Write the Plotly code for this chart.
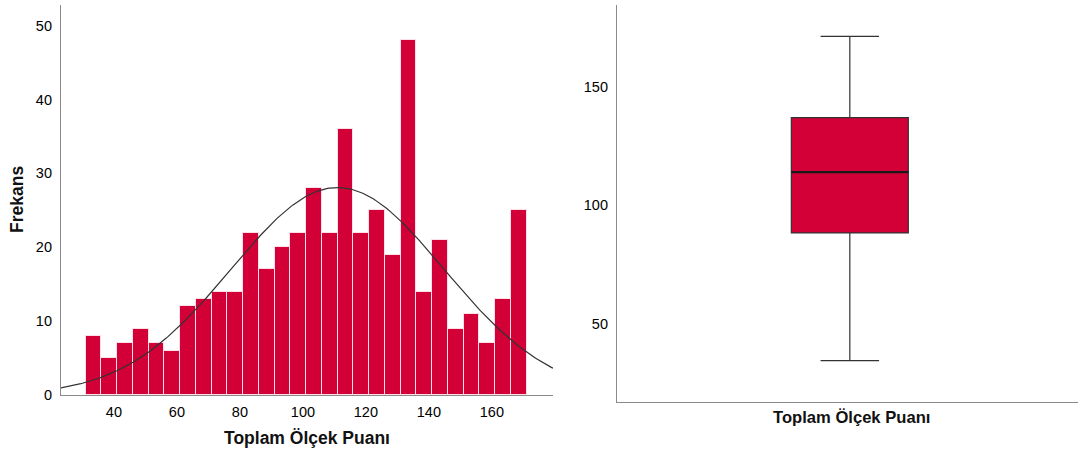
import numpy as np
import plotly.graph_objects as go

# ---- Histogram data ----
bin_start = 31.0
bin_width = 5.0
counts = [8, 5, 7, 9, 7, 6, 12, 13, 14, 14, 22, 17, 20, 22, 28, 22, 36, 22, 25, 19,
          48, 14, 21, 9, 11, 7, 13, 25]
# fitted normal curve parameters
fit_mean = 111.0
fit_sd = 33.8

# ---- Boxplot summary ----
box_q1 = 88.4
box_median = 114.0
box_q3 = 137.0
box_low = 34.6
box_high = 171.2

x_ticks = [40, 60, 80, 100, 120, 140, 160]
y_ticks_hist = [0, 10, 20, 30, 40, 50]
y_ticks_box = [50, 100, 150]
label = "Toplam Ölçek Puanı"

RED = "#D20036"
FONT = "Liberation Sans, Arial, sans-serif"

centers = [bin_start + bin_width * (i + 0.5) for i in range(len(counts))]
N = sum(counts)
xc = np.linspace(23.2, 179.4, 300)
yc = N * bin_width / (fit_sd * np.sqrt(2 * np.pi)) * np.exp(-0.5 * ((xc - fit_mean) / fit_sd) ** 2)

W, H = 1078, 452
H_EFF = 444.0
def px(x):
    return x / W
def py(y):
    return 1 - y / H_EFF

fig = go.Figure()
fig.add_trace(go.Bar(x=centers, y=counts, width=bin_width, marker=dict(color=RED,
                     line=dict(color="rgba(255,235,240,0.9)", width=1)),
                     xaxis="x", yaxis="y", showlegend=False, hoverinfo="skip"))
fig.add_trace(go.Scatter(x=xc, y=yc, mode="lines", line=dict(color="#333333", width=1.2),
                         xaxis="x", yaxis="y", showlegend=False, hoverinfo="skip"))

box_w = 0.5025
fig.add_trace(go.Box(x=[0], q1=[box_q1], median=[box_median], q3=[box_q3],
                     lowerfence=[box_low], upperfence=[box_high], width=box_w,
                     whiskerwidth=0.5, fillcolor=RED, line=dict(color="#333333", width=1.2),
                     xaxis="x2", yaxis="y2", showlegend=False, boxpoints=False, hoverinfo="skip"))
fig.add_trace(go.Scatter(x=[-box_w / 2, box_w / 2], y=[box_median, box_median], mode="lines",
                         line=dict(color="#1a1a1a", width=2.2), xaxis="x2", yaxis="y2",
                         showlegend=False, hoverinfo="skip"))

axis_common = dict(showgrid=False, zeroline=False, showline=True, linecolor="#8a8a8a",
                   linewidth=1.2, tickfont=dict(family=FONT, size=14.5, color="#000000"))

fig.update_layout(
    width=W, height=H,
    margin=dict(l=0, r=0, t=0, b=0),
    paper_bgcolor="white", plot_bgcolor="white",
    bargap=0,
    xaxis=dict(domain=[px(61), px(553)], range=[23.2, 179.4], tickvals=x_ticks,
               ticks="outside", ticklen=3, tickcolor="rgba(0,0,0,0)",
               anchor="y", **axis_common),
    yaxis=dict(domain=[py(395), py(5)], range=[0, 52.8], tickvals=y_ticks_hist,
               ticks="outside", ticklen=5, tickcolor="rgba(0,0,0,0)",
               anchor="x", **axis_common),
    xaxis2=dict(domain=[px(617), 1.0], range=[-1, 0.98], showticklabels=False,
                anchor="y2", **axis_common),
    yaxis2=dict(domain=[py(402), py(5)], range=[17.2, 184.4], tickvals=y_ticks_box,
                ticks="outside", ticklen=5, tickcolor="rgba(0,0,0,0)",
                anchor="x2", **axis_common),
    annotations=[
        dict(text="<b>Frekans</b>", x=px(17), y=py(200), xref="paper", yref="paper",
             textangle=-90, showarrow=False, font=dict(family=FONT, size=17.5, color="#111111"),
             xanchor="center", yanchor="middle"),
        dict(text="<b>" + label + "</b>", x=px(307), y=py(438), xref="paper", yref="paper",
             showarrow=False, font=dict(family=FONT, size=17.5, color="#111111"),
             xanchor="center", yanchor="middle"),
        dict(text="<b>" + label + "</b>", x=px(851), y=py(417), xref="paper", yref="paper",
             showarrow=False, font=dict(family=FONT, size=16.6, color="#111111"),
             xanchor="center", yanchor="middle"),
    ],
)

fig.write_html("out.html")
